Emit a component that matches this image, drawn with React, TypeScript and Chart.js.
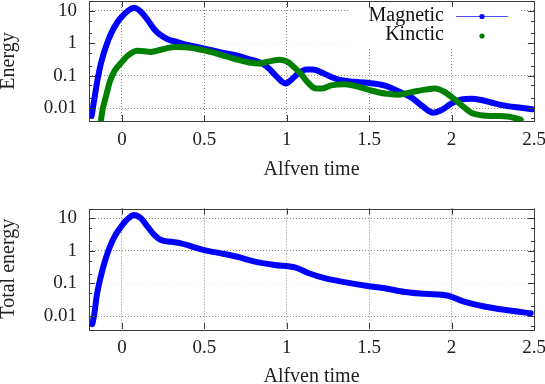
import React, { useEffect, useRef } from "react";
import { Chart, registerables } from "chart.js";

Chart.register(...registerables);

// ---------- data ----------
const magneticTime = [
  -0.184, -0.168, -0.148, -0.127, -0.097, -0.066, -0.026, 0.0, 0.034, 0.074,
  0.115, 0.156, 0.196, 0.227, 0.277, 0.338, 0.399, 0.5, 0.6, 0.7,
  0.765, 0.846, 0.887, 0.927, 0.968, 0.992, 1.028, 1.069, 1.119, 1.16,
  1.21, 1.27, 1.33, 1.41, 1.49, 1.596, 1.676, 1.757, 1.818, 1.889,
  1.939, 2.0, 2.06, 2.12, 2.18, 2.26, 2.34, 2.42, 2.49,
];
const magneticEnergy = [
  0.0057, 0.0186, 0.076, 0.245, 0.79, 2.0, 4.6, 6.6, 9.8, 12.3,
  9.3, 5.2, 2.7, 1.9, 1.33, 1.08, 0.88, 0.68, 0.52, 0.41,
  0.33, 0.245, 0.174, 0.108, 0.067, 0.057, 0.076, 0.116, 0.155, 0.155,
  0.126, 0.091, 0.072, 0.065, 0.06, 0.049, 0.033, 0.021, 0.012, 0.0072,
  0.0087, 0.014, 0.0186, 0.0195, 0.0178, 0.014, 0.0115, 0.0102, 0.0092,
];
const kineticTime = [
  -0.127, -0.117, -0.097, -0.076, -0.046, -0.006, 0.034, 0.095, 0.176, 0.237,
  0.318, 0.4, 0.5, 0.6, 0.7, 0.765, 0.826, 0.887, 0.958, 1.008,
  1.049, 1.089, 1.13, 1.17, 1.21, 1.27, 1.35, 1.43, 1.51, 1.596,
  1.676, 1.757, 1.838, 1.899, 1.949, 2.0, 2.06, 2.12, 2.18, 2.26,
  2.34, 2.42,
];
const kineticEnergy = [
  0.0044, 0.0092, 0.023, 0.06, 0.136, 0.245, 0.41, 0.59, 0.54, 0.63,
  0.76, 0.74, 0.6, 0.44, 0.31, 0.26, 0.235, 0.27, 0.31, 0.26,
  0.174, 0.108, 0.06, 0.041, 0.04, 0.05, 0.054, 0.046, 0.035, 0.028,
  0.026, 0.031, 0.037, 0.04, 0.033, 0.022, 0.0123, 0.0072, 0.006, 0.0057,
  0.0055, 0.0044,
];
const totalTime = [
  -0.18, -0.168, -0.152, -0.131, -0.107, -0.077, -0.046, -0.006, 0.034, 0.074,
  0.115, 0.156, 0.196, 0.237, 0.298, 0.358, 0.439, 0.52, 0.6, 0.7,
  0.806, 0.927, 1.05, 1.13, 1.23, 1.35, 1.49, 1.596, 1.716, 1.838,
  1.98, 2.07, 2.2, 2.32, 2.48,
];
const totalEnergy = [
  0.0056, 0.0114, 0.045, 0.145, 0.42, 1.2, 2.7, 5.5, 9.5, 12.7,
  10, 5.5, 3.1, 2.15, 1.9, 1.7, 1.29, 1.0, 0.84, 0.66,
  0.47, 0.37, 0.31, 0.21, 0.145, 0.11, 0.084, 0.071, 0.055, 0.048,
  0.042, 0.028, 0.0196, 0.0155, 0.0122,
];

const seriesLabels = ["Magnetic", "Kinctic"];
const xTickValues = [0, 0.5, 1, 1.5, 2, 2.5];
const yTickValues = [0.01, 0.1, 1, 10];
const X_MIN = -0.2;
const X_MAX = 2.5;
const Y_MIN = 0.004;
const Y_MAX = 20;

// ---------- styling ----------
const FONT = "'Liberation Serif', 'Times New Roman', serif";
const BLUE = "rgb(0,0,255)";
const GREEN = "rgb(0,128,0)";
const W = 545;
const H = 192;

const pairs = (t: number[], v: number[]) => t.map((x, i) => ({ x, y: v[i] }));

const zeroPad = (s: any) => {
  s.paddingLeft = 0;
  s.paddingRight = 0;
  s.paddingTop = 0;
  s.paddingBottom = 0;
};

const framePlugin = {
  id: "frame",
  afterDraw(chart: any) {
    const { ctx, chartArea: ca } = chart;
    const ys = chart.scales.y;
    const xs = chart.scales.x;
    ctx.save();
    ctx.strokeStyle = "#3a3a3a";
    ctx.lineWidth = 1;
    ctx.beginPath();
    for (let d = -3; d <= 1; d++) {
      for (const m of [1, 2, 5]) {
        const v = m * Math.pow(10, d);
        if (v < Y_MIN * 1.001 || v > Y_MAX * 0.999) continue;
        const py = Math.round(ys.getPixelForValue(v)) + 0.5;
        const len = m === 1 ? 6 : 3;
        ctx.moveTo(ca.left, py);
        ctx.lineTo(ca.left + len, py);
        ctx.moveTo(ca.right, py);
        ctx.lineTo(ca.right - len, py);
      }
    }
    for (const v of xTickValues) {
      const px = Math.round(xs.getPixelForValue(v)) + 0.5;
      ctx.moveTo(px, ca.bottom);
      ctx.lineTo(px, ca.bottom - 6);
      ctx.moveTo(px, ca.top);
      ctx.lineTo(px, ca.top + 6);
    }
    ctx.stroke();
    ctx.strokeRect(
      Math.round(ca.left) + 0.5,
      Math.round(ca.top) + 0.5,
      Math.round(ca.right - ca.left),
      Math.round(ca.bottom - ca.top)
    );
    ctx.restore();
  },
};

const keyPlugin = {
  id: "keybox",
  afterDatasetsDraw(chart: any) {
    const { ctx, chartArea: ca } = chart;
    ctx.save();
    ctx.fillStyle = "#fff";
    ctx.fillRect(ca.right - 184, ca.top + 1, 170, 46);
    ctx.font = `20px ${FONT}`;
    ctx.fillStyle = "#111";
    ctx.textAlign = "right";
    ctx.textBaseline = "middle";
    const tx = ca.right - 90;
    const y1 = ca.top + 14.5;
    const y2 = ca.top + 34;
    ctx.fillText(seriesLabels[0], tx, y1);
    ctx.fillText(seriesLabels[1], tx, y2);
    ctx.strokeStyle = "rgba(60,60,255,0.9)";
    ctx.lineWidth = 1;
    ctx.beginPath();
    ctx.moveTo(ca.right - 78, Math.round(y1) + 0.5);
    ctx.lineTo(ca.right - 26, Math.round(y1) + 0.5);
    ctx.stroke();
    ctx.fillStyle = BLUE;
    ctx.beginPath();
    ctx.arc(ca.right - 52, Math.round(y1) + 0.5, 2.6, 0, Math.PI * 2);
    ctx.fill();
    ctx.fillStyle = GREEN;
    ctx.beginPath();
    ctx.arc(ca.right - 52, y2 + 1, 2.6, 0, Math.PI * 2);
    ctx.fill();
    ctx.restore();
  },
};

function makeOptions(opts: {
  padTop: number;
  axisHeight: number;
  xTitlePad: number;
  yTitle: string;
  faintGrid: number;
}) {
  const gridColor = "#8a8a8a";
  return {
    responsive: false,
    animation: false as const,
    devicePixelRatio: 1,
    layout: { padding: { top: opts.padTop, right: 11, left: 0, bottom: 0 } },
    plugins: { legend: { display: false }, tooltip: { enabled: false } },
    elements: { point: { radius: 0 } },
    scales: {
      x: {
        type: "linear" as const,
        min: X_MIN,
        max: X_MAX,
        afterBuildTicks: (s: any) => {
          s.ticks = xTickValues.map((v) => ({ value: v }));
        },
        afterFit: (s: any) => {
          s.height = opts.axisHeight;
          zeroPad(s);
        },
        ticks: {
          autoSkip: false,
          maxRotation: 0,
          padding: 10,
          color: "#222",
          font: { family: FONT, size: 19, lineHeight: 1 },
          callback: (v: any) => String(v),
        },
        grid: { color: gridColor, lineWidth: 1, drawTicks: false },
        border: { display: false, dash: [1, 2] },
        title: {
          display: true,
          text: "Alfven time",
          color: "#222",
          font: { family: FONT, size: 20, lineHeight: 1 },
          padding: { top: 0, bottom: opts.xTitlePad },
        },
      },
      y: {
        type: "logarithmic" as const,
        min: Y_MIN,
        max: Y_MAX,
        afterBuildTicks: (s: any) => {
          s.ticks = yTickValues.map((v) => ({ value: v }));
        },
        afterFit: (s: any) => {
          s.width = 89;
          zeroPad(s);
        },
        ticks: {
          autoSkip: false,
          padding: 12,
          color: "#222",
          font: { family: FONT, size: 19, lineHeight: 1 },
          callback: (v: any) => String(v),
        },
        grid: {
          color: (c: any) =>
            c.tick && Math.abs(c.tick.value - opts.faintGrid) < 1e-9 ? "rgba(0,0,0,0.06)" : gridColor,
          lineWidth: 1,
          drawTicks: false,
        },
        border: { display: false, dash: [1, 2] },
        title: {
          display: true,
          text: opts.yTitle,
          color: "#222",
          font: { family: FONT, size: 20, lineHeight: 1 },
          padding: { top: -1, bottom: 0 },
        },
      },
    },
  };
}

const lineStyle = {
  borderWidth: 6,
  pointRadius: 0,
  fill: false,
  cubicInterpolationMode: "monotone" as const,
  borderCapStyle: "round" as const,
  borderJoinStyle: "round" as const,
};

function EnergyChart() {
  const ref = useRef<HTMLCanvasElement | null>(null);
  useEffect(() => {
    if (!ref.current) return;
    const chart = new Chart(ref.current, {
      type: "line",
      data: {
        datasets: [
          {
            label: seriesLabels[1],
            data: pairs(kineticTime, kineticEnergy),
            borderColor: GREEN,
            backgroundColor: GREEN,
            order: 0,
            ...lineStyle,
          },
          {
            label: seriesLabels[0],
            data: pairs(magneticTime, magneticEnergy),
            borderColor: BLUE,
            backgroundColor: BLUE,
            order: 1,
            ...lineStyle,
          },
        ],
      },
      options: makeOptions({ padTop: 1, axisHeight: 71, xTitlePad: 12, yTitle: "Energy", faintGrid: 1 }) as any,
      plugins: [keyPlugin, framePlugin],
    });
    return () => chart.destroy();
  }, []);
  return <canvas ref={ref} width={W} height={H} style={{ display: "block", width: W, height: H }} />;
}

function TotalChart() {
  const ref = useRef<HTMLCanvasElement | null>(null);
  useEffect(() => {
    if (!ref.current) return;
    const chart = new Chart(ref.current, {
      type: "line",
      data: {
        datasets: [
          {
            label: "Total",
            data: pairs(totalTime, totalEnergy),
            borderColor: BLUE,
            backgroundColor: BLUE,
            ...lineStyle,
          },
        ],
      },
      options: makeOptions({ padTop: 16.5, axisHeight: 55, xTitlePad: -2.7, yTitle: "Total energy", faintGrid: 0.1 }) as any,
      plugins: [framePlugin],
    });
    return () => chart.destroy();
  }, []);
  return <canvas ref={ref} width={W} height={H} style={{ display: "block", width: W, height: H }} />;
}

export default function App() {
  return (
    <div style={{ position: "absolute", left: 0, top: 0, width: W, height: 2 * H, background: "#fff" }}>
      <EnergyChart />
      <TotalChart />
    </div>
  );
}
